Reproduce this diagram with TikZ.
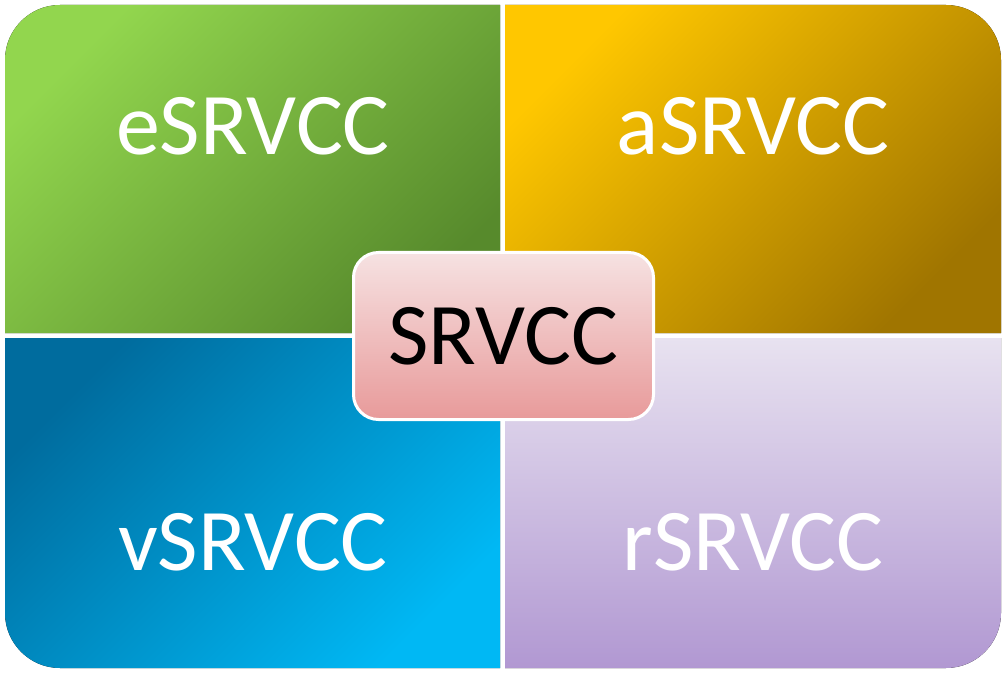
\documentclass[tikz,border=0pt]{standalone}
\usepackage{fontspec}
\setmainfont{Carlito}

\definecolor{greenA}{HTML}{92D64E}
\definecolor{greenB}{HTML}{578A2C}
\definecolor{goldA}{HTML}{FFC700}
\definecolor{goldB}{HTML}{A07500}
\definecolor{blueA}{HTML}{006C9E}
\definecolor{blueB}{HTML}{00B8F4}
\definecolor{lilacA}{HTML}{E8E2F0}
\definecolor{lilacB}{HTML}{B198D2}
\definecolor{pinkA}{HTML}{F6E2E2}
\definecolor{pinkB}{HTML}{E89A9A}

\begin{document}
\begin{tikzpicture}[x=1pt,y=1pt,
		label/.style={text=white,font=\fontsize{88}{90}\selectfont,anchor=base},
		hub/.style={draw=white,line width=3pt,rounded corners=25pt,
			minimum width=300pt,minimum height=167pt,inner sep=0pt,
			top color=pinkA,bottom color=pinkB,font=\fontsize{88}{90}\selectfont}]
		\useasboundingbox (0,0) rectangle (1006,673);
		% four quarters
		\fill[top color=greenA,bottom color=greenB,shading angle=45]
			(5,340) -- (5,613) arc[start angle=180,end angle=90,radius=55pt] -- (500,668) -- (500,340) -- cycle;
		\fill[top color=goldA,bottom color=goldB,shading angle=45]
			(505,340) -- (505,668) -- (946,668) arc[start angle=90,end angle=0,radius=55pt] -- (1001,340) -- cycle;
		\fill[top color=blueA,bottom color=blueB,shading angle=45]
			(5,335) -- (5,60) arc[start angle=180,end angle=270,radius=55pt] -- (500,5) -- (500,335) -- cycle;
		\fill[top color=lilacA,bottom color=lilacB]
			(505,335) -- (505,5) -- (946,5) arc[start angle=270,end angle=360,radius=55pt] -- (1001,335) -- cycle;
		\node[label] (esrvcc) at (253,518) {eSRVCC};
		\node[label] (asrvcc) at (753,518) {aSRVCC};
		\node[label] (vsrvcc) at (253,103) {vSRVCC};
		\node[label] (rsrvcc) at (753,103) {rSRVCC};
		% centre
		\node[hub] (srvcc) at (503.5,337) {SRVCC};
	\end{tikzpicture}
\end{document}
